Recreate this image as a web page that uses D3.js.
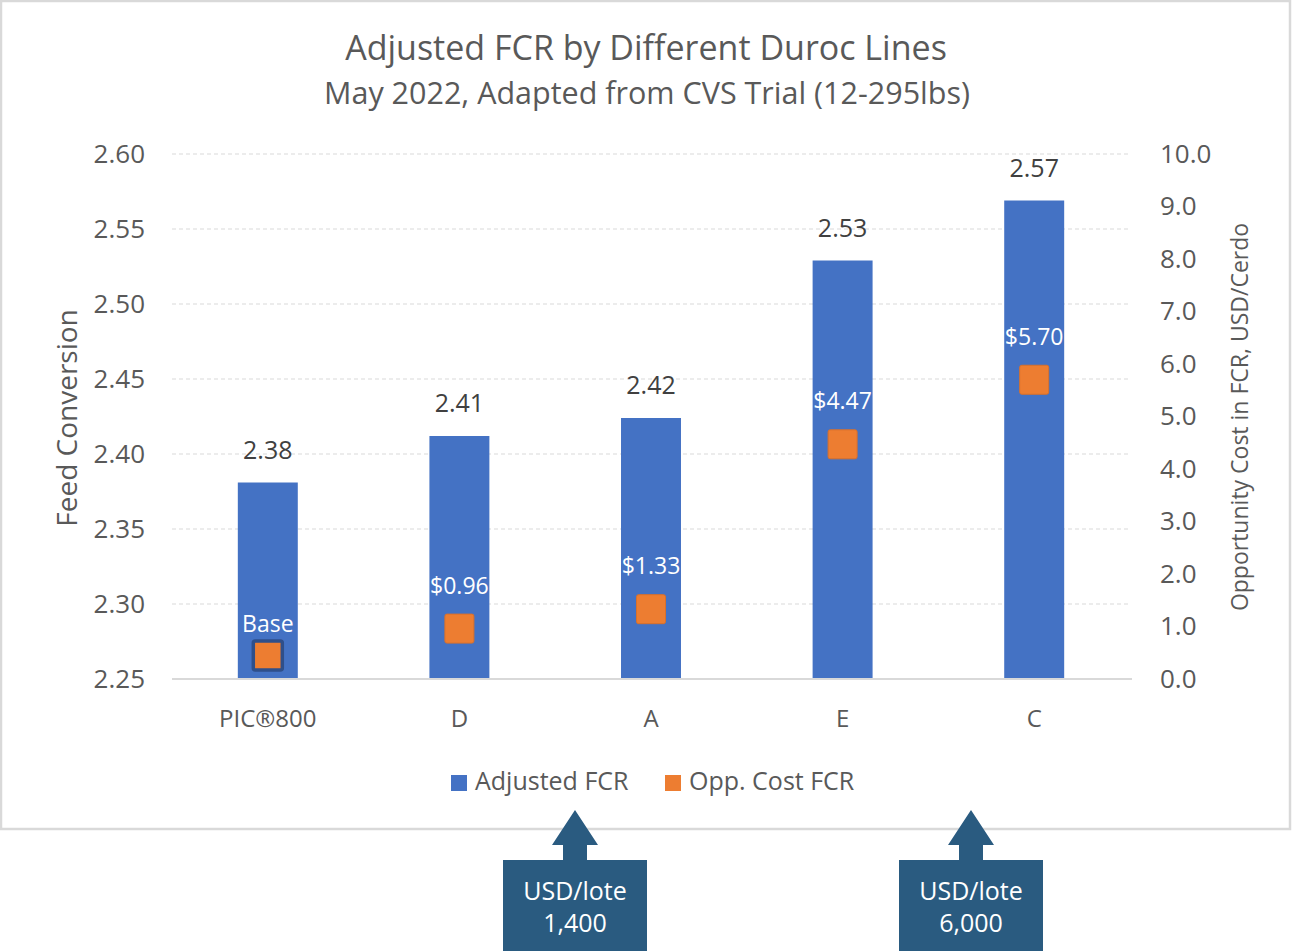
<!DOCTYPE html>
<html>
<head>
<meta charset="utf-8">
<script src="https://cdn.jsdelivr.net/npm/d3@7"></script>
<style>
  body { margin: 0; background: #fff; }
  svg text { font-family: "Open Sans", "Noto Sans", sans-serif; }
</style>
</head>
<body>
<svg id="chart"></svg>
<script>
// chart data
var lines = ["PIC®800", "D", "A", "E", "C"]
var adjustedFcr = [2.381, 2.412, 2.424, 2.529, 2.569]
var oppCost = [0.45, 0.96, 1.33, 4.47, 5.70]
var oppCostLabels = ["Base", "$0.96", "$1.33", "$4.47", "$5.70"]
var leftTicks = [2.25, 2.30, 2.35, 2.40, 2.45, 2.50, 2.55, 2.60]
var rightTicks = [0, 1, 2, 3, 4, 5, 6, 7, 8, 9, 10]
var notes = [["USD/lote", "1,400"], ["USD/lote", "6,000"]]

var dimensions = {
    width: 1293,
    height: 951,
    margin: { top: 154, bottom: 272, left: 172, right: 163 }
}
var noteCenters = [575, 971]

var colors = {
    bar: "#4472C4",
    marker: "#ED7D31",
    text: "#595959",
    label: "#404040",
    grid: "#d9d9d9",
    note: "#2A5B80"
}

var svg = d3.select("#chart")
    .attr("width", dimensions.width)
    .attr("height", dimensions.height)

var x0 = dimensions.margin.left
var x1 = dimensions.width - dimensions.margin.right
var y0 = dimensions.height - dimensions.margin.bottom
var y1 = dimensions.margin.top

// chart frame
svg.append("rect")
    .attr("x", 1).attr("y", 1)
    .attr("width", 1289).attr("height", 828)
    .attr("fill", "#fff")
    .attr("stroke", colors.grid)
    .attr("stroke-width", 2.5)

var xScale = d3.scaleBand()
    .domain(lines)
    .range([x0, x1])
    .paddingInner(0.687)
    .paddingOuter(0.3435)

var yScale = d3.scaleLinear()
    .domain([2.25, 2.60])
    .range([y0, y1])

var y2Scale = d3.scaleLinear()
    .domain([0, 10])
    .range([y0, y1])

// gridlines
svg.append("g")
    .selectAll("line")
    .data(leftTicks.slice(1))
    .enter()
    .append("line")
    .attr("x1", x0).attr("x2", x1)
    .attr("y1", function (d) { return yScale(d) })
    .attr("y2", function (d) { return yScale(d) })
    .attr("stroke", colors.grid)
    .attr("stroke-width", 1)
    .attr("stroke-dasharray", "4,3")

// left axis
var yAxis = d3.axisLeft(yScale)
    .tickValues(leftTicks)
    .tickFormat(d3.format(".2f"))
    .tickSize(0)
    .tickPadding(27)

var gy = svg.append("g")
    .attr("transform", "translate(" + x0 + ",0)")
    .call(yAxis)
gy.select(".domain").remove()
gy.selectAll("text")
    .style("font-size", "26px")
    .attr("fill", colors.text)
    .style("font-family", "'Open Sans'")

// right axis
var y2Axis = d3.axisRight(y2Scale)
    .tickValues(rightTicks)
    .tickFormat(d3.format(".1f"))
    .tickSize(0)
    .tickPadding(30)

var gy2 = svg.append("g")
    .attr("transform", "translate(" + x1 + ",0)")
    .call(y2Axis)
gy2.select(".domain").remove()
gy2.selectAll("text")
    .style("font-size", "26px")
    .attr("fill", colors.text)
    .style("font-family", "'Open Sans'")

// bars
svg.append("g")
    .selectAll("rect")
    .data(lines)
    .enter()
    .append("rect")
    .attr("x", function (d) { return xScale(d) })
    .attr("width", xScale.bandwidth())
    .attr("y", function (d, i) { return yScale(adjustedFcr[i]) })
    .attr("height", function (d, i) { return y0 - yScale(adjustedFcr[i]) })
    .attr("fill", colors.bar)

// x axis
var xAxis = d3.axisBottom(xScale).tickSize(0).tickPadding(31)
var gx = svg.append("g")
    .attr("transform", "translate(0," + y0 + ")")
    .call(xAxis)
gx.select(".domain")
    .attr("d", "M" + x0 + ",0H" + (x1 + 2))
    .attr("stroke", colors.grid)
    .attr("stroke-width", 2)
gx.selectAll("text")
    .style("font-size", "24px")
    .attr("fill", colors.text)
    .style("font-family", "'Open Sans'")

// bar value labels
svg.append("g")
    .selectAll("text")
    .data(lines)
    .enter()
    .append("text")
    .attr("x", function (d) { return xScale(d) + xScale.bandwidth() / 2 })
    .attr("y", function (d, i) { return yScale(adjustedFcr[i]) - 24 })
    .attr("text-anchor", "middle")
    .attr("fill", colors.label)
    .style("font-size", "25px")
    .text(function (d, i) { return d3.format(".2f")(adjustedFcr[i]) })

// opportunity cost markers
var size = 29
svg.append("g")
    .selectAll("rect")
    .data(lines)
    .enter()
    .append("rect")
    .attr("x", function (d) { return xScale(d) + xScale.bandwidth() / 2 - size / 2 })
    .attr("y", function (d, i) { return y2Scale(oppCost[i]) - size / 2 })
    .attr("width", size)
    .attr("height", size)
    .attr("rx", 2)
    .attr("fill", colors.marker)
    .attr("stroke", function (d, i) { return i === 0 ? "#2F4F8A" : "#D9702A" })
    .attr("stroke-width", function (d, i) { return i === 0 ? 3.5 : 1 })

svg.append("g")
    .selectAll("text")
    .data(lines)
    .enter()
    .append("text")
    .attr("x", function (d) { return xScale(d) + xScale.bandwidth() / 2 })
    // the base label sits closer to its marker in the original
    .attr("y", function (d, i) { return y2Scale(oppCost[i]) - (i === 0 ? 23 : 35) })
    .attr("text-anchor", "middle")
    .attr("fill", "#fff")
    .style("font-size", "23px")
    .text(function (d, i) { return oppCostLabels[i] })

// titles
svg.append("text")
    .attr("x", 646).attr("y", 60)
    .attr("text-anchor", "middle")
    .attr("fill", colors.text)
    .style("font-size", "34px")
    .text("Adjusted FCR by Different Duroc Lines")

svg.append("text")
    .attr("x", 647).attr("y", 104)
    .attr("text-anchor", "middle")
    .attr("fill", colors.text)
    .style("font-size", "30.5px")
    .text("May 2022, Adapted from CVS Trial (12-295lbs)")

svg.append("text")
    .attr("transform", "translate(77,418) rotate(-90)")
    .attr("text-anchor", "middle")
    .attr("fill", colors.text)
    .style("font-size", "28px")
    .text("Feed Conversion")

svg.append("text")
    .attr("transform", "translate(1248,417) rotate(-90)")
    .attr("text-anchor", "middle")
    .attr("fill", colors.text)
    .style("font-size", "23px")
    .text("Opportunity Cost in FCR, USD/Cerdo")

// legend
var legend = [
    { name: "Adjusted FCR", color: colors.bar, x: 451 },
    { name: "Opp. Cost FCR", color: colors.marker, x: 665 }
]
var lg = svg.append("g").selectAll("g")
    .data(legend)
    .enter()
    .append("g")
    .attr("transform", function (d) { return "translate(" + d.x + ",775)" })
lg.append("rect")
    .attr("width", 16).attr("height", 16)
    .attr("fill", function (d) { return d.color })
lg.append("text")
    .attr("x", 24).attr("y", 15)
    .attr("fill", colors.text)
    .style("font-size", "25px")
    .text(function (d) { return d.name })

// notes with arrows below the chart
var ng = svg.append("g").selectAll("g")
    .data(notes)
    .enter()
    .append("g")
    .attr("transform", function (d, i) { return "translate(" + noteCenters[i] + ",0)" })
ng.append("path")
    .attr("d", "M-72,860H-12V845H-23L0,810L23,845H12V860H72V960H-72Z")
    .attr("fill", colors.note)
ng.append("text")
    .attr("y", 900)
    .attr("text-anchor", "middle")
    .attr("fill", "#fff")
    .style("font-size", "25px")
    .text(function (d) { return d[0] })
ng.append("text")
    .attr("y", 932)
    .attr("text-anchor", "middle")
    .attr("fill", "#fff")
    .style("font-size", "25px")
    .text(function (d) { return d[1] })
</script>
</body>
</html>
